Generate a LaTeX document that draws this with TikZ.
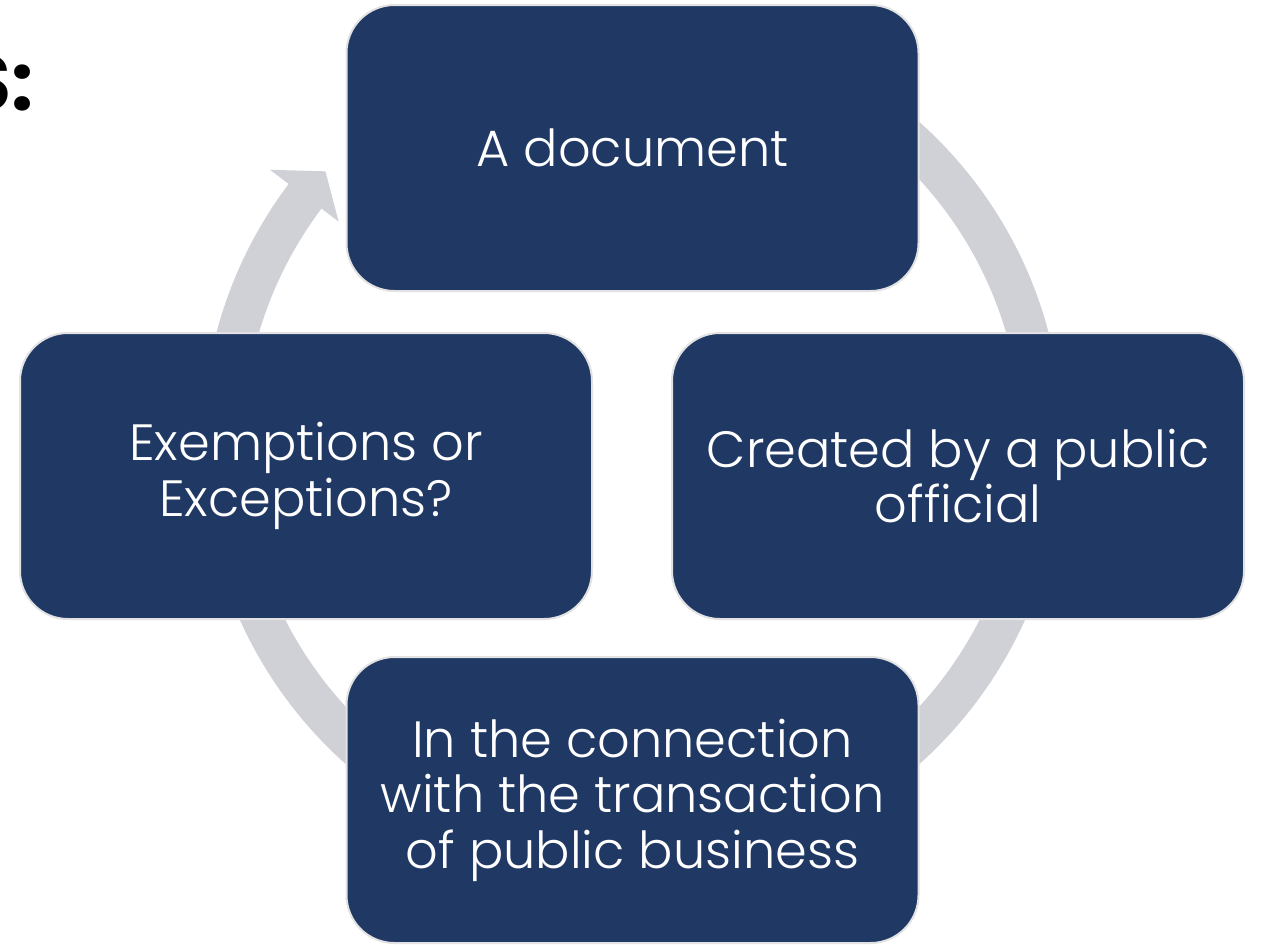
\documentclass[tikz,border=0pt]{standalone}
\usepackage{fontspec}
\setmainfont{Poppins}[UprightFont=* Light, BoldFont=* Bold]
\usepackage{tikz}

\definecolor{navy}{RGB}{32,56,100}
\definecolor{ringgray}{RGB}{208,209,214}
\definecolor{edgegray}{RGB}{226,226,226}

\tikzset{
    stagebox/.style={draw=edgegray, line width=1pt, fill=navy, rounded corners=24pt,
        minimum width=286pt, minimum height=143pt, text=white, align=center,
        inner sep=0pt, font=\fontsize{25.5pt}{27.8pt}\selectfont},
    ring/.style={draw=ringgray, line width=20.5pt}
}

\begin{document}
\begin{tikzpicture}[x=0.5pt, y=-0.5pt]
                    \useasboundingbox (0, 0) rectangle (1261, 944);
                    \coordinate (ctr) at (632.5, 443);
                    % cycle ring with its arrowhead
                    \draw[ring] ([shift={(-100:410)}]ctr) arc[start angle=-100, end angle=217.5, radius=410];
                    \fill[ringgray] ([shift={(217:454)}]ctr) -- ([shift={(221.5:410)}]ctr)
                        -- ([shift={(217:368)}]ctr) -- cycle;
                    % title, cut off at the left
                    \node[anchor=base east, inner sep=0pt, font=\bfseries\fontsize{39pt}{39pt}\selectfont] (title) at (34, 110) {S:};
                    % the four stages
                    \node[stagebox] (doc) at (632.5, 148) {A document};
                    \node[stagebox] (official) at (958, 476) {Created by a public\\official};
                    \node[stagebox] (business) at (632.5, 800) {In the connection\\with the transaction\\of public business};
                    \node[stagebox] (exempt) at (306, 476) {Exemptions or\\Exceptions?};
                \end{tikzpicture}
\end{document}
